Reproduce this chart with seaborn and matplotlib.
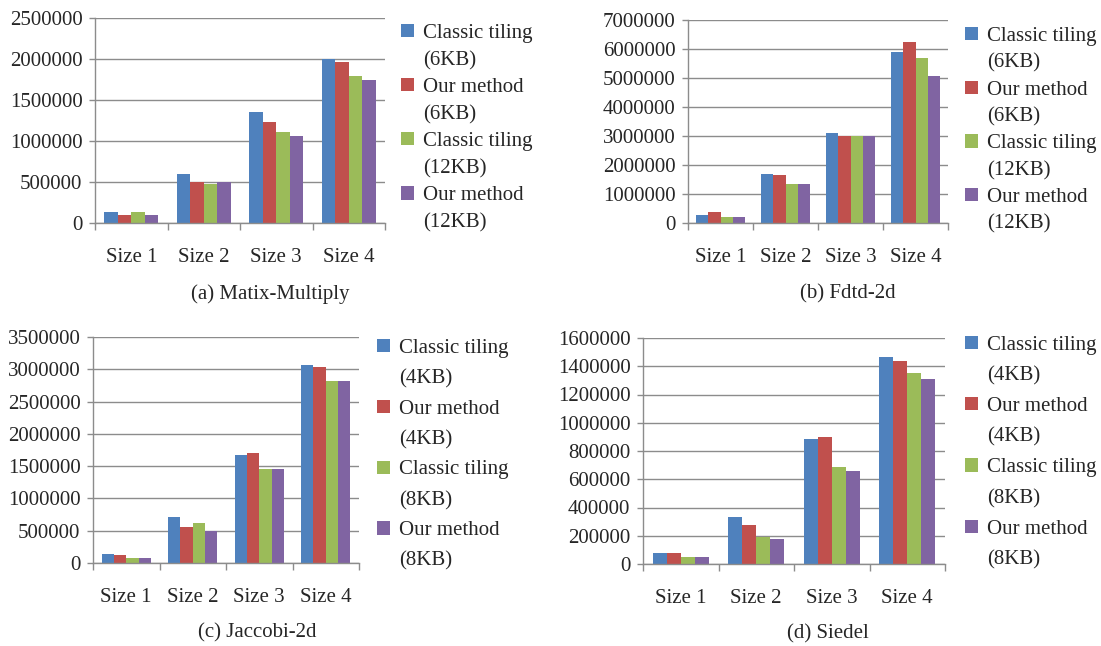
import pandas as pd
import matplotlib.pyplot as plt
import seaborn as sns
from matplotlib.patches import Patch
from matplotlib.ticker import FixedLocator

# Chart data
sizes = ['Size 1', 'Size 2', 'Size 3', 'Size 4']

mm_classic_6 = [130000, 594000, 1355000, 2000000]
mm_ours_6 = [102000, 500000, 1232000, 1965000]
mm_classic_12 = [130000, 475000, 1110000, 1795000]
mm_ours_12 = [100000, 500000, 1060000, 1745000]

fd_classic_6 = [290000, 1700000, 3110000, 5900000]
fd_ours_6 = [380000, 1640000, 2985000, 6240000]
fd_classic_12 = [200000, 1350000, 2985000, 5690000]
fd_ours_12 = [200000, 1350000, 2985000, 5070000]

jc_classic_4 = [145000, 720000, 1670000, 3065000]
jc_ours_4 = [130000, 560000, 1705000, 3030000]
jc_classic_8 = [83000, 620000, 1460000, 2815000]
jc_ours_8 = [83000, 500000, 1460000, 2815000]

sd_classic_4 = [80000, 334000, 885000, 1464000]
sd_ours_4 = [80000, 278000, 899000, 1435000]
sd_classic_8 = [52000, 193000, 687000, 1350000]
sd_ours_8 = [52000, 179000, 659000, 1308000]

series_6_12 = ['Classic tiling (6KB)', 'Our method (6KB)', 'Classic tiling (12KB)', 'Our method (12KB)']
series_4_8 = ['Classic tiling (4KB)', 'Our method (4KB)', 'Classic tiling (8KB)', 'Our method (8KB)']
legend_6_12 = ['Classic tiling', '(6KB)', 'Our method', '(6KB)', 'Classic tiling', '(12KB)', 'Our method', '(12KB)']
legend_4_8 = ['Classic tiling', '(4KB)', 'Our method', '(4KB)', 'Classic tiling', '(8KB)', 'Our method', '(8KB)']

colors = ['#4F81BD', '#C0504D', '#9BBB59', '#8064A2']
grid_color = '#8C8C8C'

sns.set_style('white')
plt.rcParams['font.family'] = ['Liberation Serif', 'DejaVu Serif']
plt.rcParams['font.size'] = 15


def make_df(series_names, values):
    rows = []
    for name, vals in zip(series_names, values):
        for s, v in zip(sizes, vals):
            rows.append({'size': s, 'series': name, 'value': v})
    return pd.DataFrame(rows)


panels = [
    # rect, data, series, ymax, step, caption, caption pos, legend labels, legend anchor, label spacing
    ([95, 18, 385, 223], [mm_classic_6, mm_ours_6, mm_classic_12, mm_ours_12], series_6_12,
     2500000, 500000, '(a) Matix-Multiply', (270, 294), legend_6_12, (401, 24), 0.38),
    ([688, 20, 948, 223], [fd_classic_6, fd_ours_6, fd_classic_12, fd_ours_12], series_6_12,
     7000000, 1000000, '(b) Fdtd-2d', (848, 294), legend_6_12, (965, 27), 0.37),
    ([93, 337, 359, 563], [jc_classic_4, jc_ours_4, jc_classic_8, jc_ours_8], series_4_8,
     3500000, 500000, '(c) Jaccobi-2d', (257, 633), legend_4_8, (377, 339), 0.54),
    ([643, 338, 945, 564], [sd_classic_4, sd_ours_4, sd_classic_8, sd_ours_8], series_4_8,
     1600000, 200000, '(d) Siedel', (828, 634), legend_4_8, (965, 336), 0.55),
]

W, H = 1101, 646
fig = plt.figure(figsize=(W / 100, H / 100), dpi=100)

for rect, values, names, ymax, step, caption, cpos, leg_labels, leg_pos, lspace in panels:
    x0, y0, x1, y1 = rect
    ax = fig.add_axes([x0 / W, 1 - y1 / H, (x1 - x0) / W, (y1 - y0) / H])
    df = make_df(names, values)
    sns.barplot(data=df, x='size', y='value', hue='series', hue_order=names,
                palette=colors, saturation=1, width=0.74, linewidth=0, ax=ax)
    ax.legend_.remove()
    ax.set_xlim(-0.5, 3.5)
    ax.set_ylim(0, ymax)
    ax.set_yticks(range(0, ymax + 1, step))
    ax.ticklabel_format(axis='y', style='plain', useOffset=False)
    ax.set_xlabel('')
    ax.set_ylabel('')
    ax.yaxis.grid(True, color=grid_color, linewidth=1)
    ax.set_axisbelow(True)
    for side in ['top', 'right']:
        ax.spines[side].set_visible(False)
    for side in ['left', 'bottom']:
        ax.spines[side].set_color(grid_color)
        ax.spines[side].set_linewidth(1)
    ax.tick_params(axis='y', left=True, length=4, width=1, color=grid_color, pad=5, labelsize=15)
    ax.tick_params(axis='x', which='major', length=0, pad=18, labelsize=15)
    ax.xaxis.set_minor_locator(FixedLocator([-0.5, 0.5, 1.5, 2.5, 3.5]))
    ax.tick_params(axis='x', which='minor', bottom=True, length=5, width=1, color=grid_color)

    handles = []
    for c in colors:
        handles.append(Patch(facecolor=c, edgecolor='none'))
        handles.append(Patch(facecolor='none', edgecolor='none'))
    ax.legend(handles, leg_labels, loc='upper left',
              bbox_to_anchor=(leg_pos[0] / W, 1 - leg_pos[1] / H), bbox_transform=fig.transFigure,
              frameon=False, borderpad=0, borderaxespad=0, handlelength=0.6, handleheight=0.6,
              handletextpad=0.45, labelspacing=lspace, fontsize=15)

    fig.text(cpos[0] / W, 1 - cpos[1] / H, caption, ha='center', va='center', fontsize=15)

fig.savefig('out.png', dpi=100)
